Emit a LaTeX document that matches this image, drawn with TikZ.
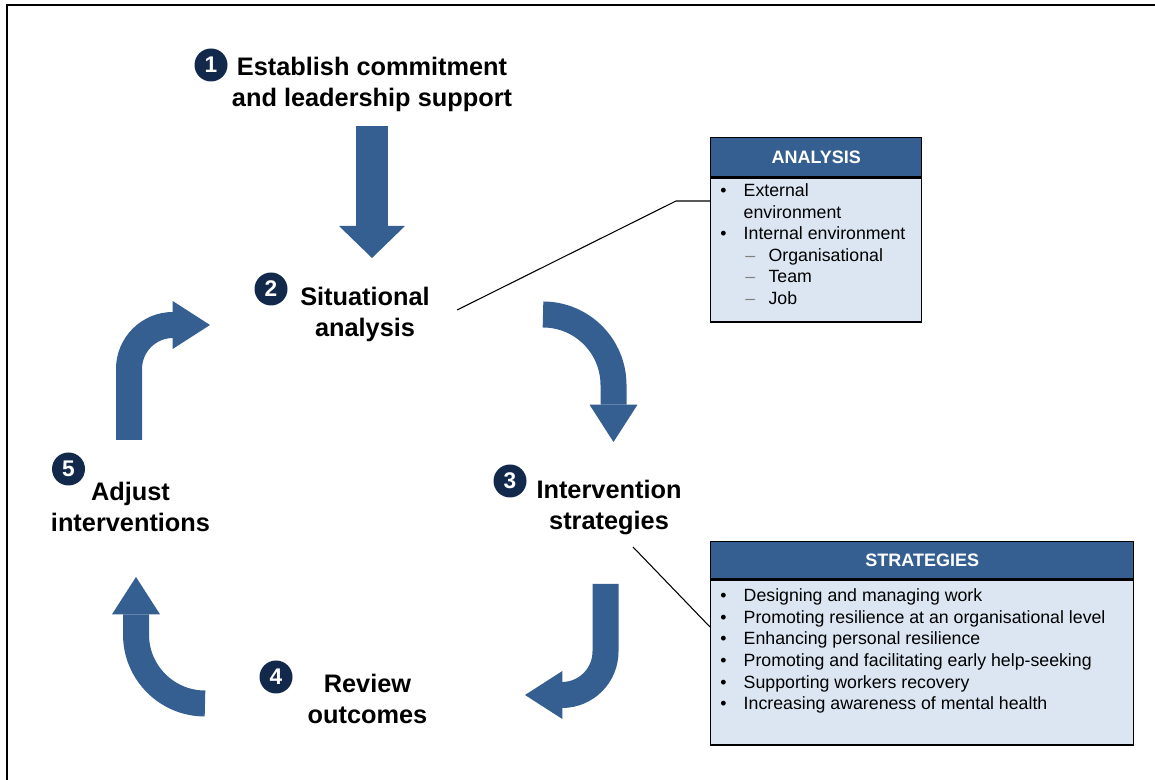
\documentclass[tikz,border=0pt]{standalone}
\usepackage{fontspec}
\setmainfont{Liberation Sans}
\usetikzlibrary{arrows.meta,positioning}
\definecolor{flowblue}{RGB}{54,95,145}
\definecolor{headblue}{RGB}{54,95,145}
\definecolor{paleblue}{RGB}{220,230,242}
\definecolor{dotnavy}{RGB}{19,41,75}
\newcommand{\lbul}{\makebox[17.6pt][l]{\textbullet}}
\newcommand{\lgap}{\hspace*{17.6pt}}
\newcommand{\lsub}{\hspace*{18.75pt}\makebox[17.5pt][l]{\textcolor{gray}{--}}}

\begin{document}
\begin{tikzpicture}[x=0.75pt,y=0.75pt,
  steplabel/.style={align=center,font=\bfseries\fontsize{19}{23.25}\selectfont},
  numdot/.style={circle,fill=dotnavy,text=white,inner sep=0pt,minimum size=24.75pt,
    font=\bfseries\fontsize{17}{17}\selectfont},
  flow/.style={draw=flowblue,line width=19.5pt,
    -{Triangle[length=28pt,width=36pt,line width=0pt]}},
  boxhead/.style={draw,line width=1.1pt,fill=headblue,text=white,inner sep=0pt,
    font=\bfseries\fontsize{13.5}{15}\selectfont},
  boxbody/.style={draw,line width=1.1pt,fill=paleblue,inner sep=0pt},
  listtext/.style={align=left,inner sep=0pt,font=\fontsize{13.3}{16.15}\selectfont},
  leader/.style={draw,line width=0.8pt}]

  \useasboundingbox (0,0) rectangle (1155,780);
  \draw[line width=1.6pt] (7,-20) -- (7,775) -- (1180,775);

  \node[steplabel] (commit) at (372,696) {Establish commitment\\and leadership support};
  \node[steplabel] (situ) at (365,466) {Situational\\analysis};
  \node[steplabel] (inter) at (609,272) {Intervention\\strategies};
  \node[steplabel] (review) at (367.5,81) {Review\\outcomes};
  \node[steplabel] (adjust) at (130.5,273) {Adjust\\interventions};

  \node[numdot] (d1) at (211,715) {1};
  \node[numdot] (d2) at (271,491) {2};
  \node[numdot] (d3) at (510,299) {3};
  \node[numdot] (d4) at (276,103) {4};
  \node[numdot] (d5) at (68.5,311) {5};

  \coordinate (downtop) at (372,654);
  \coordinate (downtip) at (372,522);
  \coordinate (a23) at (543,465.5);
  \coordinate (a23tip) at (613.5,338);
  \coordinate (a34) at (605.5,196);
  \coordinate (a34bend) at (605.5,128.5);
  \coordinate (a34tip) at (525,85);
  \coordinate (a45) at (205,76.5);
  \coordinate (a45tip) at (136,203);
  \coordinate (a52) at (129,340);
  \coordinate (a52bend) at (129,411);
  \coordinate (a52tip) at (210,455);

  \draw[flow,line width=24pt,-{Triangle[length=24pt,width=49.5pt,line width=0pt]}]
    (downtop) -- (downtip);
  \draw[flow] (a23) arc[start angle=90,end angle=0,radius=52.875pt] -- (a23tip);
  \draw[flow] (a34) -- (a34bend) arc[start angle=0,end angle=-90,radius=32.625pt] -- (a34tip);
  \draw[flow] (a45) arc[start angle=-90,end angle=-180,radius=51.75pt] -- (a45tip);
  \draw[flow] (a52) -- (a52bend) arc[start angle=180,end angle=90,radius=33pt] -- (a52tip);

  \node[boxhead,anchor=north west,minimum width=158.25pt,minimum height=29.25pt]
    (anahead) at (710,643) {ANALYSIS};
  \node[boxbody,below=0pt of anahead,minimum width=158.25pt,minimum height=108pt] (anabody) {};
  \node[listtext,anchor=north west,below right=4.5pt and 7.5pt of anabody.north west] (analist)
    {\lbul External\\
     \lgap environment\\
     \lbul Internal environment\\
     \lsub Organisational\\
     \lsub Team\\
     \lsub Job};

  \node[boxhead,anchor=north west,minimum width=317.25pt,minimum height=27.75pt]
    (strathead) at (710,239) {STRATEGIES};
  \node[boxbody,below=0pt of strathead,minimum width=317.25pt,minimum height=123.75pt] (stratbody) {};
  \node[listtext,anchor=north west,below right=7pt and 7.5pt of stratbody.north west] (stratlist)
    {\lbul Designing and managing work\\
     \lbul Promoting resilience at an organisational level\\
     \lbul Enhancing personal resilience\\
     \lbul Promoting and facilitating early help-seeking\\
     \lbul Supporting workers recovery\\
     \lbul Increasing awareness of mental health};

  \coordinate (anakink) at (676,579);
  \coordinate (stratfrom) at (633,233);
  \draw[leader] ([shift={(17pt,3pt)}]situ.east) -- (anakink) -- (anakink -| anabody.west);
  \draw[leader] (stratfrom) -- (stratbody.west |- 0,153);
\end{tikzpicture}
\end{document}
